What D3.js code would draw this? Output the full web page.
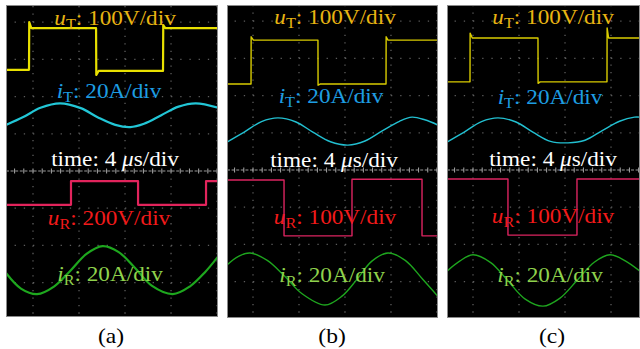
<!DOCTYPE html>
<html><head><meta charset="utf-8">
<script src="https://cdn.jsdelivr.net/npm/d3@7"></script>
<style>html,body{margin:0;padding:0;background:#fff;} svg{display:block}</style>
</head><body><svg id="c" width="640" height="349"></svg>
<script>
// ---------------- DATA ----------------
const panelNames = ["(a)", "(b)", "(c)"];
const timeLabel = "4 ";
const timeUnit = "s/div";
const uTScale = ["100V/div", "100V/div", "100V/div"];
const iTScale = ["20A/div", "20A/div", "20A/div"];
const uRScale = ["200V/div", "100V/div", "100V/div"];
const iRScale = ["20A/div", "20A/div", "20A/div"];
const panelSpan = [18.43, 18.35, 16.78]; // µs visible in each panel

// traces: [time µs, value in divisions from screen centre]
const uT_a = [[0,2.72],[2.0,2.72],[2.02,4.0],[2.2,3.84],[7.83,3.84],[7.85,2.58],[8.05,2.69],[13.65,2.69],[13.67,3.92],[13.85,3.84],[18.43,3.84]];
const iT_a = [[0,1.24],[1.5,1.45],[3,1.70],[4.7,1.82],[6.5,1.69],[8,1.44],[9.5,1.24],[10.8,1.18],[12,1.27],[13.5,1.50],[15,1.73],[16.5,1.82],[18.43,1.70]];
const uR_a = [[0,-0.91],[5.65,-0.91],[5.65,-0.27],[11.48,-0.27],[11.48,-0.91],[17.39,-0.91],[17.39,-0.27],[18.43,-0.27]];
const iR_a = [[0,-2.74],[1.3,-3.16],[2.7,-3.31],[4.2,-3.10],[5.6,-2.68],[7,-2.23],[8.4,-2.02],[9.8,-2.18],[11.2,-2.60],[12.7,-3.09],[14.5,-3.31],[16,-3.10],[17.3,-2.72],[18.43,-2.30]];

const uT_b = [[0,2.31],[2.09,2.31],[2.1,3.58],[2.3,3.49],[7.91,3.49],[7.92,2.28],[8.1,2.31],[13.83,2.31],[13.84,3.58],[14.0,3.49],[18.35,3.49]];
const iT_b = [[0,0.75],[1.5,1.02],[3,1.30],[4.43,1.40],[6,1.29],[7.5,1.01],[9,0.76],[10.52,0.67],[12,0.78],[13.5,1.05],[15,1.31],[16.09,1.42],[17.2,1.35],[18.35,1.21]];
const uR_b = [[0,-0.27],[4.96,-0.27],[4.96,-1.77],[10.87,-1.77],[10.87,-0.25],[16.96,-0.25],[16.96,-1.77],[18.35,-1.77]];
const iR_b = [[0,-2.55],[1,-2.32],[2.0,-2.23],[3.5,-2.43],[5,-2.85],[6.5,-3.32],[8.52,-3.63],[10,-3.39],[11.3,-2.94],[12.6,-2.45],[14.0,-2.23],[15.5,-2.43],[17,-2.93],[18.35,-3.40]];

const uT_c = [[0,2.37],[2.0,2.37],[2.01,3.68],[2.2,3.55],[7.91,3.55],[7.92,2.33],[8.1,2.37],[13.91,2.37],[13.92,3.82],[14.05,3.55],[16.78,3.55]];
const iT_c = [[0,0.75],[1.5,1.02],[3,1.30],[4.43,1.40],[6,1.29],[7.5,1.01],[9,0.77],[10.52,0.73],[12,0.80],[13.5,1.06],[15,1.31],[16.3,1.42],[16.78,1.42]];
const uR_c = [[0,-0.24],[5.3,-0.24],[5.3,-1.75],[11.3,-1.75],[11.3,-0.24],[16.78,-0.24]];
const iR_c = [[0,-2.72],[1.1,-2.45],[2.26,-2.28],[3.8,-2.49],[5.3,-2.98],[6.8,-3.47],[8.35,-3.66],[9.8,-3.45],[11.3,-2.97],[12.8,-2.48],[14.17,-2.28],[15.5,-2.44],[16.78,-2.72]];

const traces = [
  {uT: uT_a, iT: iT_a, uR: uR_a, iR: iR_a},
  {uT: uT_b, iT: iT_b, uR: uR_b, iR: iR_b},
  {uT: uT_c, iT: iT_c, uR: uR_c, iR: iR_c}
];

// ---------------- LAYOUT / STYLE ----------------
const boxes = [
  {x: 6,   y: 5, w: 212, h: 312, yc: 171, gx: 27, lw: 2.2},
  {x: 227, y: 5, w: 211, h: 313, yc: 170, gx: 26, lw: 1.4},
  {x: 447, y: 5, w: 193, h: 313, yc: 170, gx: 26, lw: 1.4}
];
const pxPerDivY = 37.2;
const usPerDiv = 4;
const traceColors = [
  {uT: "#e8e000", iT: "#22c6d6", uR: "#e2245c", iR: "#1ea71e"},
  {uT: "#d9cc00", iT: "#22bfd0", uR: "#dc2460", iR: "#1ea51e"},
  {uT: "#d9cc00", iT: "#22bfd0", uR: "#dc2460", iR: "#1ea51e"}
];
const textColor = {uT: "#e8b412", iT: "#1d9de2", time: "#ffffff", uR: "#f21a1a", iR: "#8fd24c"};
const textPos = [
  {uT:[109,25], iT:[103,98], time:[109,166], uR:[103,225], iR:[104,281]},
  {uT:[108,24], iT:[104,103], time:[107,167], uR:[108,224], iR:[105,282]},
  {uT:[106,24], iT:[103,104], time:[106,166], uR:[106,223], iR:[103,282]}
];
const FONT = "'Liberation Serif','Times New Roman',serif";
const FS = 21.5, SX = 1.08;

const svg = d3.select("#c");
const defs = svg.append("defs");

boxes.forEach((b, i) => {
  const x = d3.scaleLinear().domain([0, panelSpan[i]]).range([b.x, b.x + b.w]);
  const y = d3.scaleLinear()
    .domain([(b.yc - (b.y + b.h)) / pxPerDivY, (b.yc - b.y) / pxPerDivY])
    .range([b.y + b.h, b.y]);
  const pxPerUs = b.w / panelSpan[i];
  const g = svg.append("g");
  defs.append("clipPath").attr("id", "clip" + i)
    .append("rect").attr("x", b.x).attr("y", b.y).attr("width", b.w).attr("height", b.h);

  g.append("rect").attr("x", b.x).attr("y", b.y).attr("width", b.w).attr("height", b.h)
    .attr("fill", "#000");

  const grid = g.append("g").attr("clip-path", `url(#clip${i})`);
  // vertical dotted grid lines
  const t0 = b.gx / pxPerUs;
  const vt = d3.range(t0, panelSpan[i] + 0.01, usPerDiv);
  const [v0, v1] = y.domain();
  grid.selectAll(".vg").data(vt).join("line")
    .attr("x1", d => x(d)).attr("x2", d => x(d))
    .attr("y1", y(0)).attr("y2", b.y + b.h + 40)
    .attr("stroke", "#5c5c5c").attr("stroke-width", 1.3)
    .attr("stroke-dasharray", `1.3 ${pxPerDivY / 5 - 1.3}`);
  grid.selectAll(".vg2").data(vt).join("line")
    .attr("x1", d => x(d)).attr("x2", d => x(d))
    .attr("y1", y(0)).attr("y2", b.y - 40)
    .attr("stroke", "#5c5c5c").attr("stroke-width", 1.3)
    .attr("stroke-dasharray", `1.3 ${pxPerDivY / 5 - 1.3}`);
  // horizontal dotted grid rows
  const hv = d3.range(Math.ceil(v0), Math.floor(v1) + 1).filter(v => v !== 0);
  const xStart = x(t0 - usPerDiv * Math.ceil(t0 / usPerDiv));
  grid.selectAll(".hg").data(hv).join("line")
    .attr("x1", xStart).attr("x2", b.x + b.w + 10)
    .attr("y1", d => y(d)).attr("y2", d => y(d))
    .attr("stroke", "#5c5c5c").attr("stroke-width", 1.3)
    .attr("stroke-dasharray", `1.3 ${pxPerUs * usPerDiv / 5 - 1.3}`);
  // centre line with ticks
  grid.append("line").attr("x1", b.x).attr("x2", b.x + b.w)
    .attr("y1", y(0)).attr("y2", y(0))
    .attr("stroke", "#9a9a9a").attr("stroke-width", 1.2)
    .attr("stroke-dasharray", "3 1.6");
  const ticks = d3.range(t0 - usPerDiv, panelSpan[i] + 0.1, usPerDiv / 5);
  grid.selectAll(".tk").data(ticks).join("line")
    .attr("x1", d => x(d)).attr("x2", d => x(d))
    .attr("y1", y(0) - 2.5).attr("y2", y(0) + 2.5)
    .attr("stroke", "#a8a8a8").attr("stroke-width", 1);

  // traces
  const tg = g.append("g").attr("clip-path", `url(#clip${i})`);
  const lin = d3.line().x(d => x(d[0])).y(d => y(d[1]));
  const smooth = d3.line().x(d => x(d[0])).y(d => y(d[1])).curve(d3.curveCatmullRom.alpha(0.5));
  ["uT", "iT", "uR", "iR"].forEach(k => {
    const gen = (k === "iT" || k === "iR") ? smooth : lin;
    tg.append("path").datum(traces[i][k]).attr("d", gen)
      .attr("fill", "none").attr("stroke", traceColors[i][k])
      .attr("stroke-width", b.lw).attr("stroke-linejoin", "round");
  });

  // border
  g.append("rect").attr("x", b.x + 0.5).attr("y", b.y + 0.5).attr("width", b.w - 1).attr("height", b.h - 1)
    .attr("fill", "none").attr("stroke", "#8a8a8a").attr("stroke-width", 1);

  // labels
  const tp = textPos[i];
  function label(key, sym, sub, rest) {
    const [lx, ly] = tp[key];
    const t = g.append("g").attr("transform", `translate(${b.x + lx},${ly}) scale(${SX},1)`)
      .append("text").attr("text-anchor", "middle")
      .attr("font-family", FONT).attr("font-size", FS).attr("fill", textColor[key]);
    t.append("tspan").attr("font-style", "italic").text(sym);
    t.append("tspan").attr("font-size", FS * 0.7).attr("dy", 4).text(sub);
    t.append("tspan").attr("dy", -4).text(": " + rest);
  }
  label("uT", "u", "T", uTScale[i]);
  label("iT", "i", "T", iTScale[i]);
  {
    const [lx, ly] = tp.time;
    const t = g.append("g").attr("transform", `translate(${b.x + lx},${ly}) scale(${SX},1)`)
      .append("text").attr("text-anchor", "middle")
      .attr("font-family", FONT).attr("font-size", FS).attr("fill", textColor.time);
    t.append("tspan").text("time: " + timeLabel);
    t.append("tspan").attr("font-style", "italic").text("\u03bc");
    t.append("tspan").text(timeUnit);
  }
  label("uR", "u", "R", uRScale[i]);
  label("iR", "i", "R", iRScale[i]);

  // panel caption
  svg.append("g").attr("transform", `translate(${b.x + 105},343) scale(1.07,1)`)
    .append("text").attr("text-anchor", "middle")
    .attr("font-family", FONT).attr("font-size", 22).attr("fill", "#000")
    .text(panelNames[i]);
});
</script>
</body></html>
